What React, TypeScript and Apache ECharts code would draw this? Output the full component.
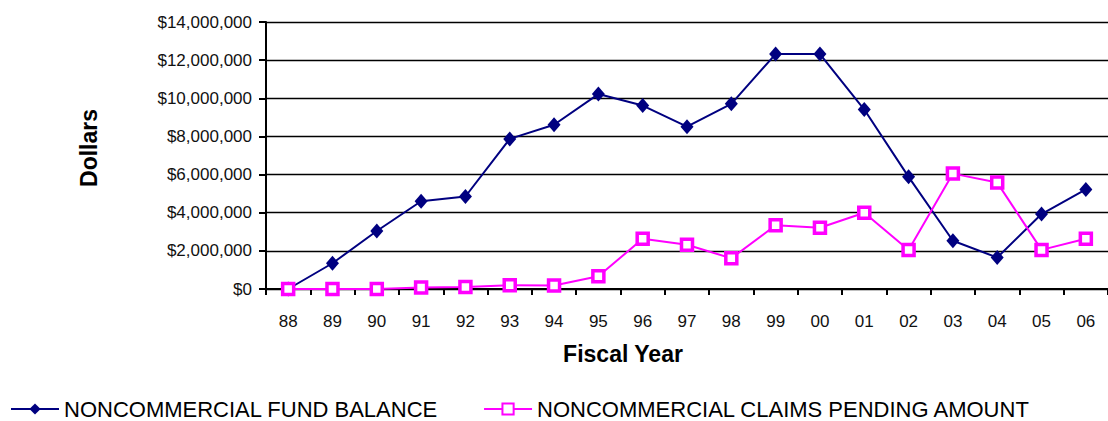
import React, { useEffect, useRef } from "react";
import * as echarts from "echarts";

// Fiscal years on the category axis
const fiscalYears = [
  "88", "89", "90", "91", "92", "93", "94", "95", "96", "97",
  "98", "99", "00", "01", "02", "03", "04", "05", "06",
];

// Year-end fund balance, dollars
const fundBalance = [
  0, 1350000, 3040000, 4600000, 4850000, 7870000, 8610000, 10220000, 9620000, 8510000,
  9710000, 12320000, 12320000, 9410000, 5880000, 2530000, 1650000, 3930000, 5220000,
];

// Claims pending at year end, dollars
const claimsPending = [
  0, 0, 0, 80000, 100000, 200000, 180000, 670000, 2630000, 2320000,
  1610000, 3340000, 3210000, 4000000, 2050000, 6050000, 5580000, 2050000, 2630000,
];

// Value-axis range
const yMin = 0;
const yMax = 14000000;
const yStep = 2000000;

const FONT = "'Liberation Sans', Arial, Helvetica, sans-serif";

function formatDollars(v: number): string {
  return "$" + Math.round(v).toString().replace(/\B(?=(\d{3})+(?!\d))/g, ",");
}

export default function App() {
  const ref = useRef<HTMLDivElement>(null);

  useEffect(() => {
    if (!ref.current) return;
    const chart = echarts.init(ref.current, undefined, { renderer: "svg" });
    chart.setOption({
      animation: false,
      backgroundColor: "#ffffff",
      textStyle: { fontFamily: FONT },
      grid: { left: 266, top: 22, right: -6, bottom: 132, containLabel: false },
      xAxis: {
        type: "category",
        data: fiscalYears,
        boundaryGap: true,
        axisLine: { show: true, lineStyle: { color: "#000", width: 2 } },
        axisTick: { show: true, length: 6, lineStyle: { color: "#000", width: 2 } },
        axisLabel: { color: "#111", fontSize: 17, fontFamily: FONT, margin: 24 },
        splitLine: { show: false },
      },
      yAxis: {
        type: "value",
        min: yMin,
        max: yMax,
        interval: yStep,
        axisLine: { show: true, lineStyle: { color: "#000", width: 2 } },
        axisTick: { show: true, length: 7, lineStyle: { color: "#000", width: 2 } },
        axisLabel: {
          color: "#111",
          fontSize: 17,
          fontFamily: FONT,
          margin: 14,
          formatter: (v: number) => formatDollars(v),
        },
        splitLine: { show: true, lineStyle: { color: "#000", width: 1.3 } },
      },
      legend: {
        left: 10,
        top: 398,
        itemWidth: 48,
        itemHeight: 14,
        itemGap: 45,
        padding: 0,
        textStyle: { color: "#000", fontSize: 22, fontFamily: FONT },
        data: ["NONCOMMERCIAL FUND BALANCE", "NONCOMMERCIAL CLAIMS PENDING AMOUNT"],
      },
      graphic: [
        {
          type: "text",
          x: 89,
          y: 148,
          rotation: Math.PI / 2,
          style: {
            text: "Dollars",
            font: `bold 23px ${FONT}`,
            fill: "#000",
            textAlign: "center",
            textVerticalAlign: "middle",
          },
        },
        {
          type: "text",
          x: 623,
          y: 354,
          style: {
            text: "Fiscal Year",
            font: `bold 23px ${FONT}`,
            fill: "#000",
            textAlign: "center",
            textVerticalAlign: "middle",
          },
        },
      ],
      series: [
        {
          name: "NONCOMMERCIAL FUND BALANCE",
          type: "line",
          data: fundBalance,
          symbol: "diamond",
          symbolSize: [13, 15],
          lineStyle: { color: "#000080", width: 2 },
          itemStyle: { color: "#000080" },
          z: 3,
        },
        {
          name: "NONCOMMERCIAL CLAIMS PENDING AMOUNT",
          type: "line",
          data: claimsPending,
          symbol: "rect",
          symbolSize: 11,
          lineStyle: { color: "#ff00ff", width: 2 },
          itemStyle: { color: "#ffffff", borderColor: "#ff00ff", borderWidth: 3.5 },
          z: 4,
        },
      ],
    });
    return () => chart.dispose();
  }, []);

  return (
    <div
      ref={ref}
      style={{ position: "fixed", left: 0, top: 0, width: 1108, height: 421, background: "#fff" }}
    />
  );
}
